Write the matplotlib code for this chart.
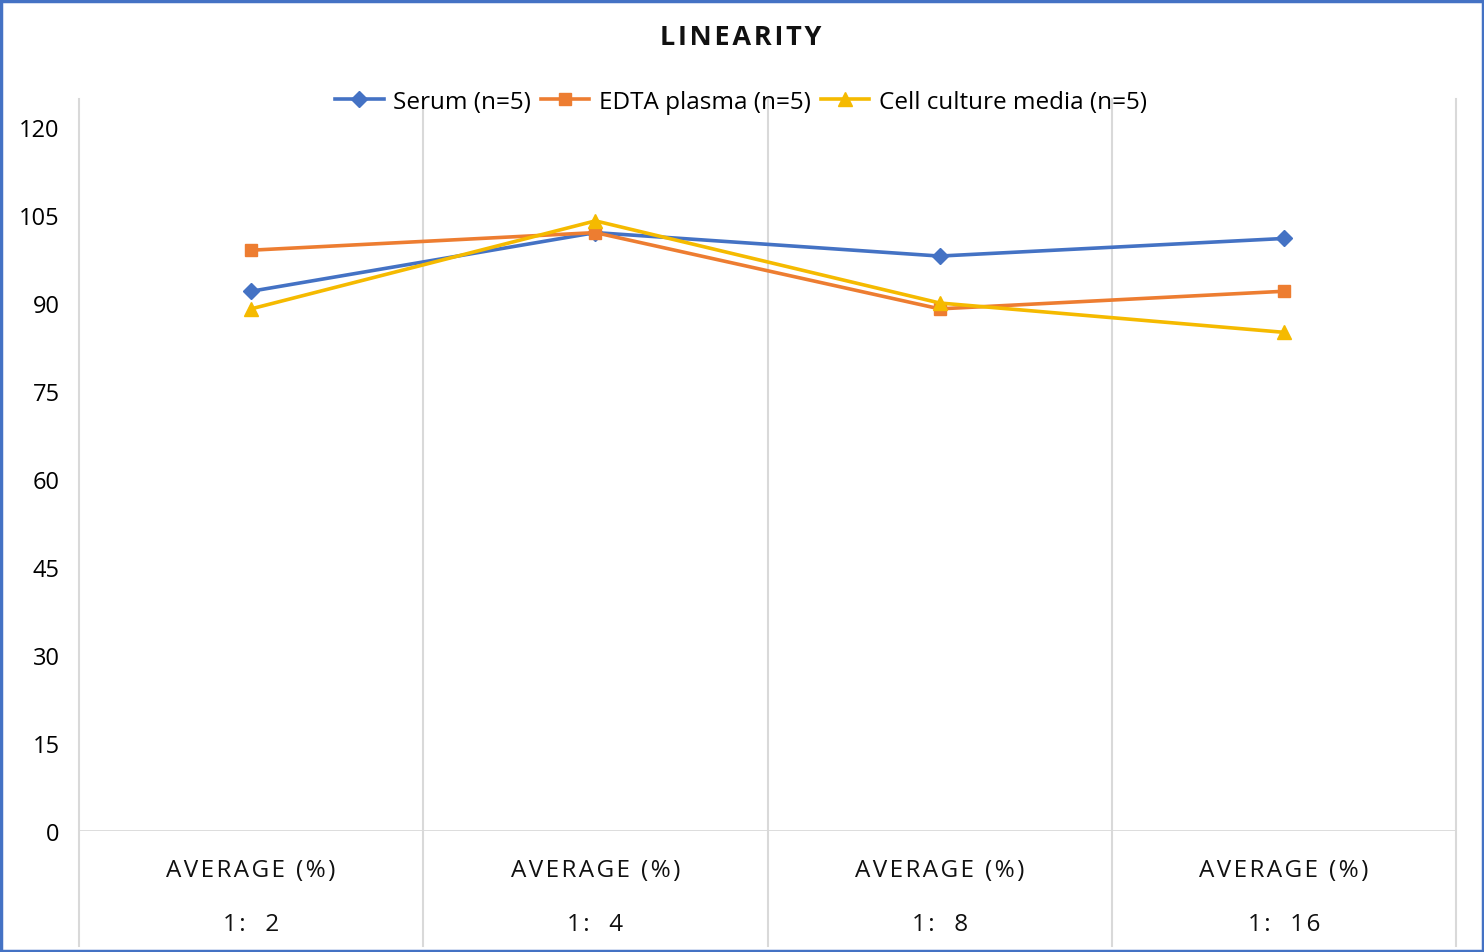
import matplotlib
matplotlib.use("Agg")
import matplotlib.pyplot as plt
import matplotlib.transforms as mtransforms
from matplotlib.patches import Rectangle

cat_top = ["AVERAGE (%)", "AVERAGE (%)", "AVERAGE (%)", "AVERAGE (%)"]
cat_bottom = ["1:  2", "1:  4", "1:  8", "1:  16"]
serum = [92, 102, 98, 101]
edta = [99, 102, 89, 92]
cell = [89, 104, 90, 85]
yticks = [0, 15, 30, 45, 60, 75, 90, 105, 120]
title = "LINEARITY"

FAM = ['Open Sans', 'DejaVu Sans']
plt.rcParams['font.family'] = FAM


def spaced(s, sep="\u2009"):
    return sep.join(list(s))


W, H = 1484, 953
fig = plt.figure(figsize=(W / 100, H / 100), dpi=100)
left, right, bottom, top = 79, 1456, 832, 128
ax = fig.add_axes([left / W, 1 - bottom / H, (right - left) / W, (bottom - top) / H])

x = list(range(len(cat_top)))
ax.plot(x, serum, color="#4472C4", lw=2.6, marker="D", ms=8, label="Serum (n=5)", zorder=3)
ax.plot(x, edta, color="#ED7D31", lw=2.6, marker="s", ms=9, label="EDTA plasma (n=5)", zorder=3)
ax.plot(x, cell, color="#F5BA00", lw=2.6, marker="^", ms=10, label="Cell culture media (n=5)", zorder=3)

ax.set_xlim(-0.5, len(cat_top) - 0.5)
ax.set_ylim(0, 120)
ax.set_yticks(yticks)
ax.set_yticklabels([str(v) for v in yticks], fontsize=17)
ax.tick_params(axis='y', length=0, pad=14)
ax.set_xticks([])
for s in ax.spines.values():
    s.set_visible(False)

trans = mtransforms.blended_transform_factory(ax.transData, ax.transAxes)
y_top = (bottom - 100) / (bottom - top)
y_bot = (bottom - 947) / (bottom - top)
for xv in [i - 0.5 for i in range(len(cat_top) + 1)]:
    ax.plot([xv, xv], [y_bot, y_top], transform=trans, color="#D9D9D9", lw=1.5, clip_on=False, zorder=1)
ax.axhline(0, color="#D9D9D9", lw=2, zorder=1)

for i in x:
    ax.text(i, (bottom - 871) / (bottom - top), spaced(cat_top[i], "\u200a"),
            transform=trans, ha='center', va='center', fontsize=17.5, color="#111111")
    ax.text(i, (bottom - 925) / (bottom - top), spaced(cat_bottom[i], "\u200a"),
            transform=trans, ha='center', va='center', fontsize=17.5, color="#111111")

fig.text(741 / W, 1 - 38 / H, spaced(title, "\u200a"), ha='center', va='center', fontsize=19.5,
         fontweight='bold', color="#111111")

leg = ax.legend(loc='center', bbox_to_anchor=((741 - left) / (right - left), (bottom - 103) / (bottom - top)),
                ncol=3, frameon=False, fontsize=17.5, handlelength=2.0, columnspacing=0.4, handletextpad=0.4)

fig.patches.append(Rectangle((0.001, 0.001), 0.998, 0.997, transform=fig.transFigure, fill=False,
                             edgecolor="#4472C4", lw=2.5))

fig.savefig("out.png", dpi=100)
